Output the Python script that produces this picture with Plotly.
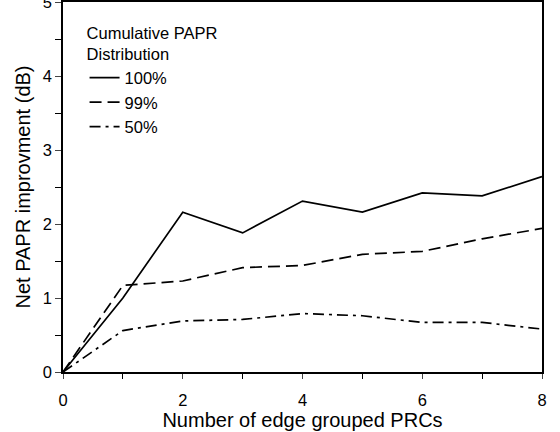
import plotly.graph_objects as go

x_vals = [0, 1, 2, 3, 4, 5, 6, 7, 8]
papr_100 = [0, 1.00, 2.16, 1.88, 2.31, 2.16, 2.42, 2.38, 2.64]
papr_99 = [0, 1.17, 1.23, 1.41, 1.44, 1.59, 1.63, 1.80, 1.94]
papr_50 = [0, 0.56, 0.69, 0.71, 0.79, 0.76, 0.67, 0.67, 0.58]
series_names = ["100%", "99%", "50%"]

fig = go.Figure()
styles = ["solid", "12px,6px", "11px,5px,3px,5px"]
for name, ys, dash in zip(series_names, [papr_100, papr_99, papr_50], styles):
    fig.add_trace(go.Scatter(x=x_vals, y=ys, mode="lines", name=name,
                             line=dict(color="black", width=1.7, dash=dash)))

font = dict(family="Liberation Sans, Arial, sans-serif", size=16.5, color="black")
fig.update_layout(
    width=560, height=432,
    margin=dict(l=63, r=18, t=2, b=60),
    paper_bgcolor="white", plot_bgcolor="white",
    font=font,
    showlegend=True,
    legend=dict(x=0.045, y=0.958, xanchor="left", yanchor="top",
                bgcolor="rgba(0,0,0,0)",
                title=dict(text="Cumulative PAPR<br>Distribution", font=dict(size=16.5)),
                font=dict(size=16.5), itemwidth=30, tracegroupgap=0),
    xaxis=dict(range=[0, 8], dtick=2, tick0=0, ticks="outside", ticklen=5,
               ticklabelstandoff=7, automargin=False,
               showline=True, linecolor="black", linewidth=1.5, mirror=True,
               showgrid=False, zeroline=False, ticklabeloverflow="allow",
               minor=dict(dtick=1, ticks="outside", ticklen=5, tickcolor="black"),
               title=dict(text="Number of edge grouped PRCs", standoff=0)),
    yaxis=dict(range=[0, 5], dtick=1, tick0=0, ticks="outside", ticklen=6,
               automargin=False,
               showline=True, linecolor="black", linewidth=1.5, mirror=True,
               showgrid=False, zeroline=False, ticklabeloverflow="allow",
               minor=dict(dtick=0.5, ticks="outside", ticklen=6, tickcolor="black"),
               title=dict(text="Net PAPR improvment (dB)", standoff=7)),
)
fig.write_html("out.html", config={"displayModeBar": False},
               post_script="document.body.style.margin='0';")
